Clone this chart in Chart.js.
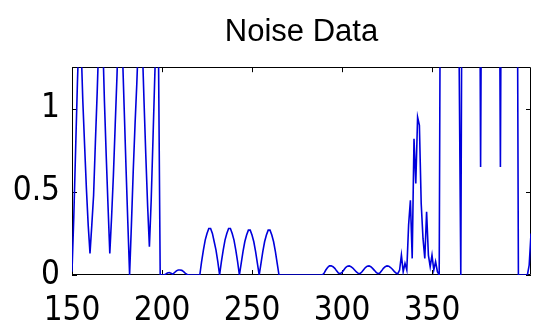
<!DOCTYPE html>
<html>
<head>
<meta charset="utf-8">
<title>Noise Data</title>
<script src="https://cdn.jsdelivr.net/npm/chart.js@4.4.1/dist/chart.umd.min.js"></script>
<style>
  html, body { margin: 0; padding: 0; background: #fff; }
  canvas { display: block; }
</style>
</head>
<body>
<canvas id="noiseChart" width="536" height="327"></canvas>
<script>
'use strict';

// ******** DATA **********

// sample positions along the x axis
let xValues = [
  150, 151, 152, 153, 154, 155, 156, 157, 158, 159,
  160, 161, 162, 163, 164, 165, 166, 167, 168, 169,
  170, 171, 172, 173, 174, 175, 176, 177, 178, 179,
  180, 181, 182, 183, 184, 185, 186, 187, 188, 189,
  190, 191, 192, 193, 194, 195, 196, 197, 198, 199,
  200, 201, 202, 203, 204, 205, 206, 207, 208, 209,
  210, 211, 212, 213, 214, 215,
  221, 222, 223, 224, 225, 226, 227, 228, 229, 230,
  231, 232, 233, 234, 235, 236, 237, 238, 239, 240,
  241, 242, 243, 244, 245, 246, 247, 248, 249, 250,
  251, 252, 253, 254, 255, 256, 257, 258, 259, 260,
  261, 262, 263, 264, 265,
  289, 290, 291, 292, 293, 294, 295, 296, 297, 298, 299,
  300, 301, 302, 303, 304, 305, 306, 307, 308, 309,
  310, 311, 312, 313, 314, 315, 316, 317, 318, 319,
  320, 321, 322, 323, 324, 325, 326, 327, 328, 329,
  330, 331, 332, 333, 334, 335, 336, 337, 338, 339,
  340, 341, 342, 343, 344, 345, 346, 347, 348, 349,
  350, 351, 352, 353, 354,
  355, 356, 357, 358, 359, 360, 361, 362, 363, 364,
  365, 366, 367, 368, 369, 370, 371, 372, 373, 374,
  375, 376, 377, 378, 379, 380, 381, 382, 383, 384,
  385, 386, 387, 388, 389, 390, 391, 392, 393, 394,
  395, 396, 397, 398, 399, 403, 404, 405
];

// noise amplitude at each sample
let yValues = [
  0.02, 0.35, 0.75, 1.15, 1.5, 1.4, 1.05, 0.78, 0.52, 0.3,
  0.13, 0.3, 0.48, 0.8, 1.1, 1.45, 1.8, 1.45, 1.05, 0.72,
  0.42, 0.13, 0.35, 0.6, 0.9, 1.2, 1.55, 1.7, 1.35, 1.0,
  0.65, 0.32, 0.0, 0.3, 0.62, 0.9, 1.15, 1.45, 1.7, 1.4,
  1.05, 0.72, 0.42, 0.17, 0.45, 0.82, 1.2, 1.55, 1.4, 0.0,
  0.0, 0.0, 0.005, 0.012, 0.015, 0.01, 0.005, 0.015, 0.025, 0.03,
  0.03, 0.028, 0.02, 0.01, 0.003, 0.0,
  0.0, 0.08, 0.15, 0.21, 0.25, 0.28, 0.28, 0.25, 0.2, 0.15,
  0.08, 0.0, 0.08, 0.15, 0.21, 0.25, 0.28, 0.28, 0.25, 0.21,
  0.15, 0.08, 0.0, 0.07, 0.14, 0.2, 0.24, 0.27, 0.27, 0.24,
  0.2, 0.14, 0.07, 0.0, 0.07, 0.14, 0.2, 0.24, 0.27, 0.27,
  0.24, 0.2, 0.14, 0.07, 0.0,
  0.0, 0.01, 0.03, 0.045, 0.055, 0.055, 0.05, 0.04, 0.025, 0.012, 0.008,
  0.015, 0.03, 0.045, 0.053, 0.055, 0.05, 0.042, 0.03, 0.018, 0.01,
  0.008, 0.018, 0.032, 0.045, 0.053, 0.055, 0.05, 0.04, 0.028, 0.015,
  0.008, 0.012, 0.025, 0.04, 0.05, 0.055, 0.053, 0.045, 0.035, 0.022,
  0.012, 0.008, 0.03, 0.12, 0.02, 0.07, 0.03, 0.3, 0.45, 0.1,
  0.82, 0.55, 0.95, 0.9, 0.43, 0.22, 0.1, 0.38, 0.12, 0.05,
  0.12, 0.03, 0.08, 0.02, 0.0,
  2.9, 5.3, 7.4, 8.9, 9.8, 9.9, 9.2, 7.8, 5.9, 3.6,
  1.4, 0.0, 2.9, 5.4, 7.5, 9.0, 9.8, 9.9, 9.2, 7.7,
  5.6, 3.2, 0.65, 3.0, 5.5, 7.6, 9.1, 9.9, 9.8, 9.0,
  7.4, 5.3, 2.9, 0.65, 3.2, 5.6, 7.8, 9.2, 9.9, 9.6,
  8.2, 6.0, 3.1, 0.0, 0.0, 0.0, 0.06, 0.25
];

let xTicks = [150, 200, 250, 300, 350];
let yTicks = [0, 0.5, 1];

let xMin = 150;
let xMax = 405;
let yMin = 0;
let yMax = 1.25;

// ********** SETTINGS ***********

let tickFont = { family: "'Liberation Sans Narrow', 'DejaVu Sans Condensed', sans-serif", size: 33 };
let titleFont = { family: "'Liberation Sans', Arial, sans-serif", size: 31, weight: 'normal' };

// box round the plot with short inward tick marks on every side
let axisBox = {
  id: 'axisBox',
  beforeDatasetsDraw(chart) {
    let c = chart.ctx;
    let a = chart.chartArea;
    let x = chart.scales.x;
    let y = chart.scales.y;
    let len = 5;

    c.save();
    c.strokeStyle = '#000';
    c.lineWidth = 1;
    c.beginPath();
    c.rect(Math.round(a.left) + 0.5, Math.round(a.top) + 0.5,
      Math.round(a.right) - Math.round(a.left) - 1, Math.round(a.bottom) - Math.round(a.top) - 1);

    xTicks.forEach(function (v) {
      let px = Math.round(x.getPixelForValue(v)) + 0.5;
      c.moveTo(px, a.bottom);
      c.lineTo(px, a.bottom - len);
      c.moveTo(px, a.top);
      c.lineTo(px, a.top + len);
    });
    yTicks.forEach(function (v) {
      let py = Math.round(y.getPixelForValue(v)) + 0.5;
      c.moveTo(a.left, py);
      c.lineTo(a.left + len, py);
      c.moveTo(a.right, py);
      c.lineTo(a.right - len, py);
    });
    c.stroke();
    c.restore();
  }
};

// ********** CHART *************

let ctx = document.getElementById('noiseChart').getContext('2d');

let points = xValues.map(function (v, i) {
  return { x: v, y: yValues[i] };
});

new Chart(ctx, {
  type: 'line',
  data: {
    datasets: [{
      data: points,
      borderColor: '#0000dc',
      borderWidth: 1.6,
      pointRadius: 0,
      tension: 0,
      fill: false
    }]
  },
  options: {
    responsive: false,
    animation: false,
    layout: {
      padding: { left: 0, right: 5, top: 0, bottom: 0 }
    },
    plugins: {
      legend: { display: false },
      tooltip: { enabled: false },
      title: {
        display: true,
        text: 'Noise Data',
        color: '#000',
        fullSize: false,
        font: titleFont,
        padding: { top: 14, bottom: 16 }
      }
    },
    scales: {
      x: {
        type: 'linear',
        min: xMin,
        max: xMax,
        afterBuildTicks: function (scale) {
          scale.ticks = xTicks.map(function (v) { return { value: v }; });
        },
        afterFit: function (scale) { scale.height = 52; },
        grid: { display: false, drawTicks: false },
        border: { display: false },
        ticks: {
          color: '#000',
          font: tickFont,
          padding: 17,
          maxRotation: 0,
          autoSkip: false,
          callback: function (v) { return String(v); }
        }
      },
      y: {
        type: 'linear',
        min: yMin,
        max: yMax,
        afterBuildTicks: function (scale) {
          scale.ticks = yTicks.map(function (v) { return { value: v }; });
        },
        afterFit: function (scale) { scale.width = 72; },
        grid: { display: false, drawTicks: false },
        border: { display: false },
        ticks: {
          color: '#000',
          font: tickFont,
          padding: 12,
          autoSkip: false,
          callback: function (v) { return String(v); }
        }
      }
    }
  },
  plugins: [axisBox]
});
</script>
</body>
</html>
